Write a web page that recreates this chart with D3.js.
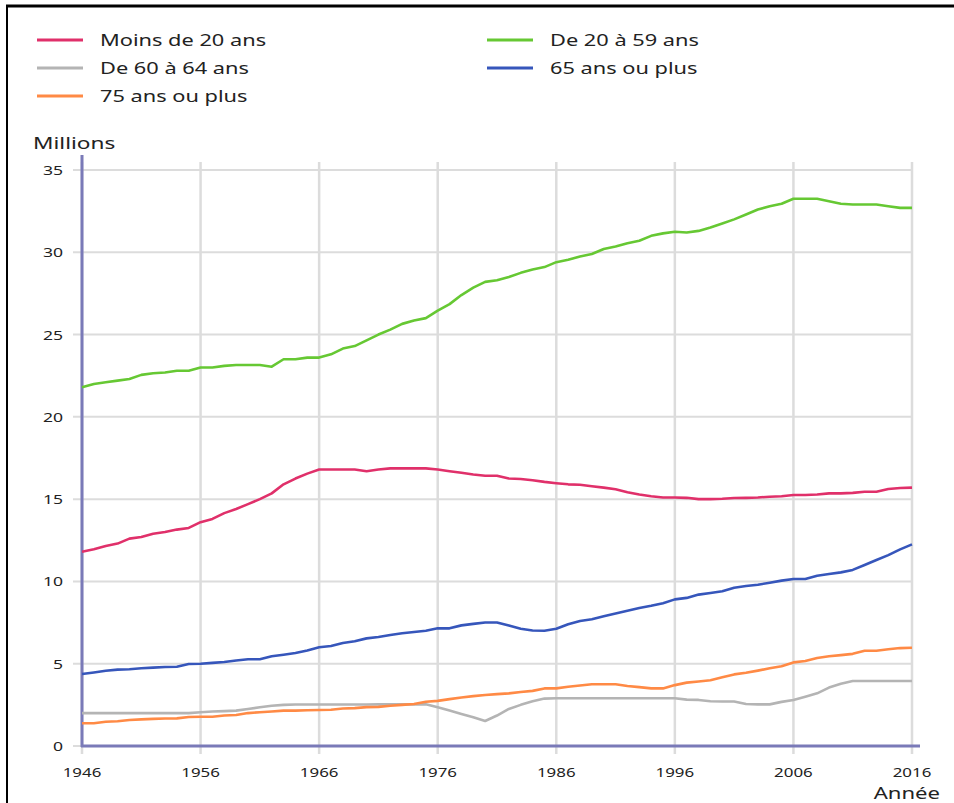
<!DOCTYPE html>
<html><head><meta charset="utf-8">
<script src="https://cdn.jsdelivr.net/npm/d3@7"></script>
<style>
html,body{margin:0;padding:0;background:#fff;}
svg{display:block;}
</style></head>
<body>
<svg id="chart" width="954" height="803"></svg>
<script>
const years = d3.range(1946, 2017);
const seriesNames = ["Moins de 20 ans","De 20 à 59 ans","De 60 à 64 ans","65 ans ou plus","75 ans ou plus"];
const seriesColors = ["#e0306a","#66c833","#b4b4b4","#3656bb","#ff8a45"];
const yTicks = [0,5,10,15,20,25,30,35];
const xTicks = [1946,1956,1966,1976,1986,1996,2006,2016];

const moins20 = [11.8,11.95,12.15,12.3,12.6,12.7,12.9,13.0,13.15,13.25,13.6,13.8,14.15,14.4,14.7,15.0,15.35,15.9,16.25,16.55,16.8,16.8,16.8,16.8,16.7,16.8,16.87,16.87,16.87,16.87,16.8,16.7,16.6,16.5,16.42,16.42,16.25,16.22,16.15,16.05,15.97,15.9,15.87,15.78,15.7,15.6,15.42,15.28,15.18,15.1,15.1,15.08,15.0,15.0,15.02,15.07,15.08,15.1,15.15,15.18,15.25,15.25,15.28,15.35,15.35,15.38,15.45,15.45,15.62,15.68,15.7];
const de20a59 = [21.8,22.0,22.1,22.2,22.3,22.55,22.65,22.7,22.8,22.8,23.0,23.0,23.1,23.15,23.15,23.15,23.05,23.5,23.5,23.6,23.6,23.8,24.15,24.3,24.65,25.0,25.3,25.65,25.85,26.0,26.45,26.85,27.4,27.85,28.2,28.3,28.5,28.75,28.95,29.1,29.4,29.55,29.75,29.9,30.2,30.35,30.55,30.7,31.0,31.15,31.25,31.2,31.3,31.5,31.75,32.0,32.3,32.6,32.8,32.95,33.25,33.25,33.25,33.1,32.95,32.9,32.9,32.9,32.8,32.7,32.7];
const de60a64 = [2.0,2.0,2.0,2.0,2.0,2.0,2.0,2.0,2.0,2.0,2.05,2.1,2.12,2.15,2.25,2.35,2.45,2.5,2.52,2.52,2.52,2.52,2.52,2.52,2.52,2.53,2.53,2.53,2.53,2.53,2.35,2.15,1.95,1.75,1.52,1.85,2.25,2.5,2.72,2.88,2.9,2.9,2.9,2.9,2.9,2.9,2.9,2.9,2.9,2.9,2.9,2.82,2.8,2.72,2.7,2.7,2.55,2.53,2.53,2.68,2.8,3.0,3.2,3.55,3.78,3.95,3.95,3.95,3.95,3.95,3.95];
const plus65 = [4.37,4.47,4.57,4.64,4.66,4.72,4.76,4.8,4.82,4.98,5.0,5.05,5.1,5.2,5.27,5.27,5.45,5.55,5.65,5.8,6.0,6.08,6.26,6.36,6.54,6.62,6.75,6.85,6.93,7.0,7.15,7.15,7.33,7.42,7.5,7.5,7.32,7.12,7.02,7.0,7.12,7.4,7.6,7.7,7.88,8.05,8.22,8.38,8.52,8.68,8.91,9.0,9.2,9.3,9.4,9.62,9.72,9.8,9.92,10.05,10.15,10.15,10.35,10.45,10.55,10.7,11.0,11.3,11.6,11.95,12.25];
const plus75 = [1.38,1.38,1.47,1.5,1.58,1.62,1.65,1.67,1.68,1.76,1.78,1.78,1.85,1.88,2.0,2.05,2.1,2.15,2.15,2.17,2.19,2.2,2.28,2.3,2.36,2.38,2.45,2.5,2.55,2.69,2.74,2.85,2.95,3.03,3.1,3.15,3.2,3.28,3.35,3.5,3.5,3.6,3.68,3.75,3.75,3.75,3.65,3.58,3.5,3.5,3.7,3.85,3.92,4.0,4.18,4.35,4.45,4.58,4.72,4.85,5.08,5.17,5.35,5.45,5.52,5.6,5.79,5.79,5.88,5.95,5.97];

const seriesData = [moins20, de20a59, de60a64, plus65, plus75];

const svg = d3.select("#chart");
const font = "'Noto Sans', 'Open Sans', sans-serif";

// stretched text helper (reference text is horizontally widened)
function stext(g, tx, ty, str, size, anchor, sx){
  return g.append("text")
    .attr("transform",`translate(${tx},${ty}) scale(${sx},1)`)
    .attr("text-anchor",anchor).attr("font-family",font)
    .attr("font-size",size).attr("fill","#222").text(str);
}

// frame
svg.append("line").attr("x1",6).attr("x2",954).attr("y1",6).attr("y2",6).attr("stroke","#000").attr("stroke-width",3);
svg.append("line").attr("x1",7).attr("x2",7).attr("y1",5).attr("y2",803).attr("stroke","#000").attr("stroke-width",2);

const x = d3.scaleLinear().domain([1946,2016]).range([82,912]);
const y = d3.scaleLinear().domain([0,35]).range([746,170]);

// grid
const grid = svg.append("g");
grid.selectAll("line.h").data(yTicks).join("line")
  .attr("x1",73).attr("x2",912).attr("y1",d=>y(d)).attr("y2",d=>y(d))
  .attr("stroke","#dcdcdc").attr("stroke-width",2);
grid.selectAll("line.v").data(xTicks).join("line")
  .attr("x1",d=>x(d)).attr("x2",d=>x(d)).attr("y1",162).attr("y2",754)
  .attr("stroke","#dcdcdc").attr("stroke-width",2.5);

// tick labels
const yl = svg.append("g");
yTicks.forEach(d=>stext(yl, 63, y(d)+5, d, 13, "end", 1.35));
const xl = svg.append("g");
xTicks.forEach(d=>stext(xl, x(d), 777, d, 13, "middle", 1.3));

stext(svg, 33, 149, "Millions", 17, "start", 1.33);
stext(svg, 940, 799, "Année", 17, "end", 1.3);

// axes lines
svg.append("line").attr("x1",82).attr("x2",82).attr("y1",155).attr("y2",747).attr("stroke","#7a7ab8").attr("stroke-width",3);
svg.append("line").attr("x1",81).attr("x2",920).attr("y1",746).attr("y2",746).attr("stroke","#7a7ab8").attr("stroke-width",3);

// lines
const line = d3.line().x((d,i)=>x(years[i])).y(d=>y(d));
const order = [2,4,3,0,1];
order.forEach(k=>{
  svg.append("path").datum(seriesData[k]).attr("d",line)
    .attr("fill","none").attr("stroke",seriesColors[k]).attr("stroke-width",2.6)
    .attr("stroke-linejoin","round");
});

// legend
const legendPos = [[37,40],[487,40],[37,68],[487,68],[37,96]];
const lg = svg.append("g");
seriesNames.forEach((n,i)=>{
  const [lx,ly] = legendPos[i];
  lg.append("line").attr("x1",lx).attr("x2",lx+46).attr("y1",ly).attr("y2",ly)
    .attr("stroke",seriesColors[i]).attr("stroke-width",3);
  stext(lg, lx+63, ly+6, n, 16.5, "start", 1.32);
});
</script>
</body></html>
